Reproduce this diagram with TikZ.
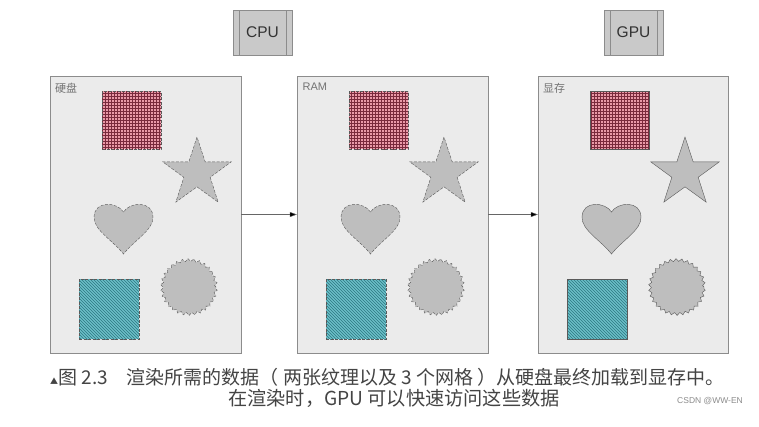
\documentclass[tikz,border=0pt]{standalone}
\usepackage{fontspec}
\setmainfont{Liberation Sans}
\newfontfamily\cjk{Noto Sans CJK SC}
\usetikzlibrary{shapes.geometric,patterns,decorations.pathmorphing,arrows.meta}
\definecolor{panelgray}{HTML}{EBEBEB}
\definecolor{edgegray}{HTML}{8C8C8C}
\definecolor{shapegray}{HTML}{BEBEBE}
\definecolor{outline}{HTML}{5A5A5A}
\definecolor{texred}{HTML}{EA9AA8}
\definecolor{gridred}{HTML}{7A2A3C}
\definecolor{texteal}{HTML}{6CC0C8}
\definecolor{lineteal}{HTML}{2C7782}
\definecolor{chipgray}{HTML}{C9C9C9}
\definecolor{captgray}{HTML}{444444}
\tikzset{heartpic/.pic={
  \path[pic actions] (0,9) .. controls (-6,-1) and (-29,-3) .. (-29.5,14)
    .. controls (-30,27) and (-11,37) .. (0,51)
    .. controls (11,37) and (30,27) .. (29.5,14)
    .. controls (29,-3) and (6,-1) .. (0,9) -- cycle;}}

\begin{document}
\begin{tikzpicture}[x=1pt,y=-1pt]
\tikzstyle{panel}=[draw=edgegray,fill=panelgray,minimum width=191pt,minimum height=277pt,inner sep=0pt]
\tikzstyle{chip}=[draw=edgegray,fill=chipgray,minimum width=59pt,minimum height=45pt,inner sep=0pt,font=\fontsize{15.5}{16}\selectfont,text=black!80,
  path picture={\draw[edgegray] ([xshift=6pt]path picture bounding box.north west) -- ([xshift=6pt]path picture bounding box.south west);
    \draw[edgegray] ([xshift=-6pt]path picture bounding box.north east) -- ([xshift=-6pt]path picture bounding box.south east);}]
\tikzstyle{lbl}=[anchor=west,inner sep=0pt,text=black!55,font=\fontsize{11}{12}\selectfont]
\tikzstyle{redtex}=[pattern=grid,pattern color=gridred,preaction={fill=texred},minimum width=59pt,minimum height=58pt,inner sep=0pt]
\tikzstyle{bluetex}=[pattern=north west lines,pattern color=lineteal,preaction={fill=texteal},minimum size=60pt,inner sep=0pt]
\tikzstyle{starshape}=[star,star points=5,star point ratio=2.6,minimum size=72pt,inner sep=0pt,fill=shapegray,draw=outline]
\tikzstyle{sun}=[circle,minimum size=54pt,inner sep=0pt,fill=shapegray,draw=outline,decorate,decoration={zigzag,segment length=5.6pt,amplitude=1.4pt}]
\tikzstyle{cut}=[dash pattern=on 3pt off 1.5pt]
\tikzstyle{cutedge}=[postaction={draw=outline,dash pattern=on 3pt off 1.5pt}]
\tikzstyle{edge}=[postaction={draw=outline}]
\tikzstyle{link}=[draw=black!60,-{Triangle[length=7pt,width=5pt,fill=black]}]

\fill[white] (0,0) rectangle (759,426);
\useasboundingbox (0,0) rectangle (759,426);

% processors
\node[chip] (cpu) at (262.5,32.5) {CPU};
\node[chip] (gpu) at (633.5,32.5) {GPU};

% hard disk
\node[panel] (disk) at (145.5,214.5) {};
\node[lbl] (disklbl) at (55,88) {\cjk 硬盘};
\node[redtex,cutedge] (tex1) at (131.5,120) {};
\node[starshape,cut] (star1) at (197,173) {};
\pic[fill=shapegray,draw=outline,cut] (heart1) at (123.5,203) {heartpic};
\node[bluetex,cutedge] (mesh1) at (109,309) {};
\node[sun,cut] (sun1) at (189,287) {};

% ram
\node[panel] (ram) at (392.5,214.5) {};
\node[lbl] (ramlbl) at (302.5,87) {RAM};
\node[redtex,cutedge] (tex2) at (378.5,120) {};
\node[starshape,cut] (star2) at (444,173) {};
\pic[fill=shapegray,draw=outline,cut] (heart2) at (370.5,203) {heartpic};
\node[bluetex,cutedge] (mesh2) at (356,309) {};
\node[sun,cut] (sun2) at (436,287) {};

% video memory
\node[panel,minimum width=190pt] (vram) at (633,214.5) {};
\node[lbl] (vramlbl) at (543,88) {\cjk 显存};
\node[redtex,edge] (tex3) at (619.5,120) {};
\node[starshape] (star3) at (685,173) {};
\pic[fill=shapegray,draw=outline] (heart3) at (611.5,203) {heartpic};
\node[bluetex,edge] (mesh3) at (597,309) {};
\node[sun] (sun3) at (677,287) {};

\draw[link] (disk) -- (ram);
\draw[link] (ram) -- (vram);

% caption
\node[anchor=west,inner sep=0pt,text=captgray,font=\cjk\fontsize{19}{20}\selectfont] (cap1) at (50,377)
  {{\fontsize{8}{8}\selectfont ▲}图 2.3\hspace{19pt}渲染所需的数据（ 两张纹理以及 3 个网格 ）从硬盘最终加载到显存中。};
\node[anchor=west,inner sep=0pt,text=captgray,font=\cjk\fontsize{19.2}{20}\selectfont] (cap2) at (228,398)
  {在渲染时，GPU 可以快速访问这些数据};
\node[anchor=east,inner sep=0pt,text=black!45,font=\fontsize{8.5}{9}\selectfont] (mark) at (743,401) {CSDN @WW-EN};
\end{tikzpicture}
\end{document}
